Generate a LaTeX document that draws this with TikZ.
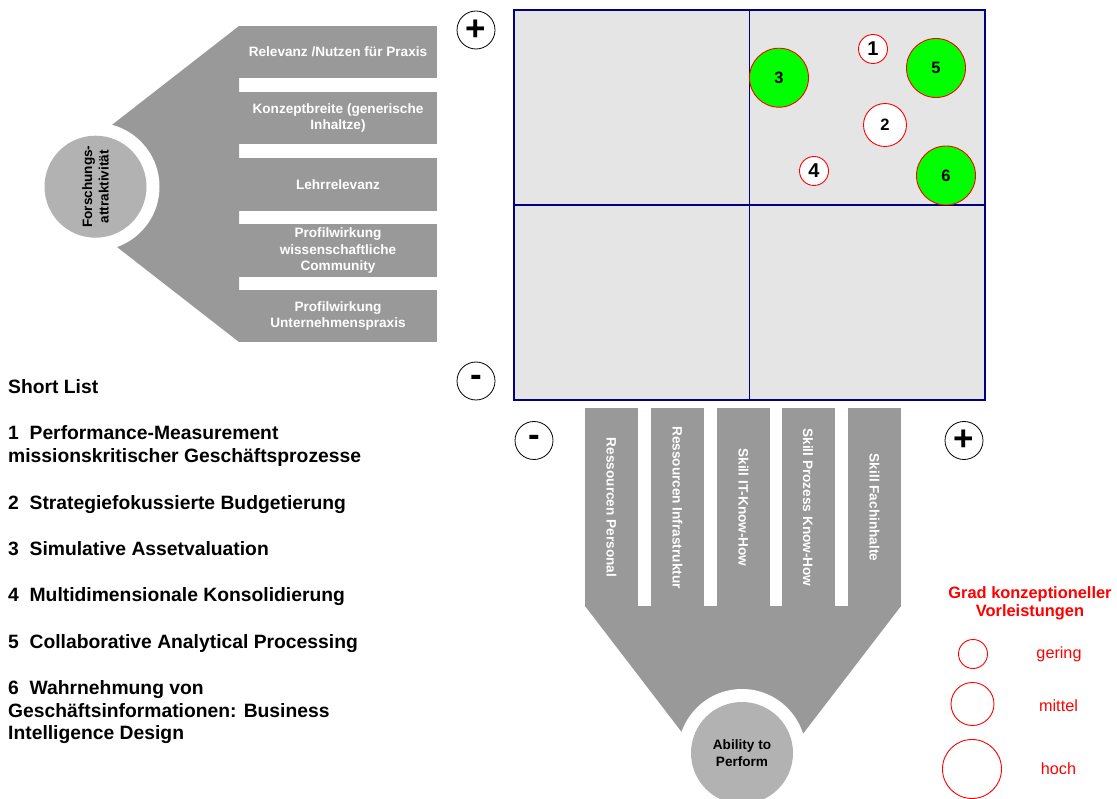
\documentclass[tikz,border=0pt]{standalone}
\usepackage{fontspec}
\setmainfont{Liberation Sans}
\definecolor{fgray}{HTML}{999999}
\definecolor{cgray}{HTML}{B2B2B2}
\definecolor{mbg}{HTML}{E5E5E5}
\definecolor{navy}{HTML}{000080}
\definecolor{lgreen}{HTML}{00FF00}
\newcommand{\ftRow}{\fontsize{13.6}{16.4}\selectfont\bfseries}
\newcommand{\ftList}{\fontsize{19.3}{22.5}\selectfont\bfseries}
\newcommand{\ftNum}{\fontsize{16.5}{18}\selectfont\bfseries}
\newcommand{\ftNumB}{\fontsize{20}{22}\selectfont\bfseries}
\newcommand{\ftBig}{\fontsize{35}{36}\selectfont\bfseries}
\newcommand{\ftLegT}{\fontsize{16.4}{18}\selectfont\bfseries}
\newcommand{\ftLeg}{\fontsize{16.2}{18}\selectfont}
\tikzset{
  rowbox/.style={fill=fgray, minimum width=198, minimum height=52.5, inner sep=0, text=white, font=\ftRow, align=center},
  barbox/.style={fill=fgray, minimum width=199, minimum height=53, inner sep=0, text=white, font=\ftRow, rotate=-90},
  hub/.style={circle, fill=cgray, minimum size=102, inner sep=0, font=\ftRow, align=center},
  bub/.style={circle, draw=red, line width=0.9, inner sep=0, font=\ftNum},
  pm/.style={circle, draw=black, line width=0.8, fill=white, minimum size=38, inner sep=0, font=\ftBig},
  listline/.style={anchor=base west, inner sep=0, font=\ftList},
  legtxt/.style={text=red, font=\ftLeg, inner sep=0},
}
\begin{document}
\begin{tikzpicture}[x=1pt,y=-1pt]
\useasboundingbox (0,0) rectangle (1117,799);
% ---- left funnel
\fill[fgray] (239,26) -- (36,184) -- (239,342) -- cycle;
\node[rowbox] (r1) at (338,52) {Relevanz /Nutzen für Praxis};
\node[rowbox] (r2) at (338,118) {Konzeptbreite (generische\\Inhaltze)};
\node[rowbox] (r3) at (338,184.5) {Lehrrelevanz};
\node[rowbox] (r4) at (338,250.5) {Profilwirkung\\wissenschaftliche\\Community};
\node[rowbox] (r5) at (338,316) {Profilwirkung\\Unternehmenspraxis};
\fill[white] (95.5,186.7) circle (64);
\node[hub, rotate=90] (fa) at (95.5,186.7) {Forschungs-\\attraktivität};
% ---- bottom funnel
\fill[fgray] (585,606) -- (901,606) -- (743,812) -- cycle;
\node[barbox] (b1) at (611.5,507.5) {Ressourcen Personal};
\node[barbox] (b2) at (677.5,507.5) {Ressourcen Infrastruktur};
\node[barbox] (b3) at (743.5,507.5) {Skill IT-Know-How};
\node[barbox] (b4) at (808,507.5) {Skill Prozess Know-How};
\node[barbox] (b5) at (874.5,507.5) {Skill Fachinhalte};
\fill[white] (742,753) circle (64);
\node[hub] (ap) at (742,753) {Ability to\\Perform};
% ---- matrix
\node[draw=navy, line width=1.5, fill=mbg, minimum width=471, minimum height=390, inner sep=0] (mat) at (749.5,205) {};
\draw[navy, line width=1.6] (mat.north) -- (mat.south);
\draw[navy, line width=1.6] (mat.west) -- (mat.east);
\node[bub, fill=white, minimum size=29, font=\ftNumB] (c1) at (873,49) {1};
\node[bub, fill=white, minimum size=43] (c2) at (885,125) {2};
\node[bub, fill=lgreen, minimum size=59] (c3) at (779,77.7) {3};
\node[bub, fill=white, minimum size=29, font=\ftNumB] (c4) at (814,171) {4};
\node[bub, fill=lgreen, minimum size=59] (c5) at (936,68) {5};
\node[bub, fill=lgreen, minimum size=59] (c6) at (946,175.5) {6};
% ---- plus / minus
\node[pm] (pt) at (476,30) {+};
\node[pm] (mt) at (476,381) {-};
\node[pm] (mb) at (534,440.5) {-};
\node[pm] (pb) at (964,440.5) {+};
% ---- short list
\node[listline] (sl) at (8,394) {Short List};
\node[listline] (l1a) at (8,440) {1~~Performance-Measurement};
\node[listline] (l1b) at (8,462.5) {missionskritischer Geschäftsprozesse};
\node[listline] (l2) at (8,510) {2~~Strategiefokussierte Budgetierung};
\node[listline] (l3) at (8,555.5) {3~~Simulative Assetvaluation};
\node[listline] (l4) at (8,601.5) {4~~Multidimensionale Konsolidierung};
\node[listline] (l5) at (8,648) {5~~Collaborative Analytical Processing};
\node[listline] (l6a) at (8,694.5) {6~~Wahrnehmung von};
\node[listline] (l6b) at (8,717) {Geschäftsinformationen: Business};
\node[listline] (l6c) at (8,739.5) {Intelligence Design};
% ---- legend
\node[text=red, font=\ftLegT, align=center, inner sep=0] (lt) at (1030,603) {Grad konzeptioneller\\Vorleistungen};
\node[circle, draw=red, line width=0.9, minimum size=29, inner sep=0] (g1) at (973,654) {};
\node[circle, draw=red, line width=0.9, minimum size=43, inner sep=0] (g2) at (972.5,704) {};
\node[circle, draw=red, line width=0.9, minimum size=59, inner sep=0] (g3) at (972,769) {};
\node[legtxt] (t1) at (1059,654) {gering};
\node[legtxt] (t2) at (1058.5,706) {mittel};
\node[legtxt] (t3) at (1058.5,769) {hoch};
\end{tikzpicture}
\end{document}
